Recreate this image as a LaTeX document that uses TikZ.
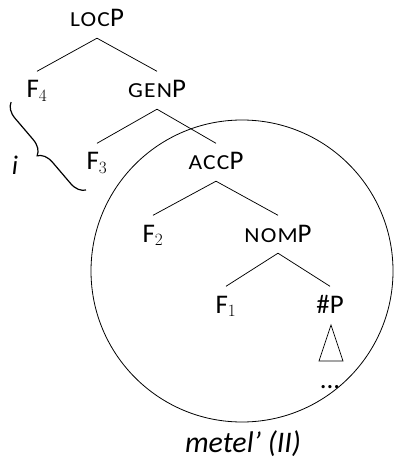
\documentclass[tikz,border=0pt]{standalone}
\usepackage{fontspec}
\usepackage{graphicx}
\setmainfont{Carlito}
\newfontfamily\scfont[LetterSpace=5]{Carlito}
\newcommand{\fakesc}[1]{\scalebox{1.1}[1]{\scfont\fontsize{21.5}{24}\selectfont #1}}
\usetikzlibrary{decorations.pathreplacing}
\begin{document}
\begin{tikzpicture}[x=1bp,y=-1bp,
  lbl/.style={anchor=base, font=\fontsize{27}{30}\selectfont, text height=15.5bp, text depth=0bp, inner xsep=0bp, inner ysep=11bp},
  branch/.style={line width=0.75bp},
  plain/.style={anchor=base, font=\fontsize{27}{30}\selectfont, inner sep=0bp}]
\useasboundingbox (0,0) rectangle (393,459);
% tree nodes
\node[lbl] (loc) at (97,27) {\fakesc{LOC}P};
\node[lbl] (f4) at (37,98) {F$_4$};
\node[lbl] (gen) at (157,98) {\fakesc{GEN}P};
\node[lbl] (f3) at (97,170) {F$_3$};
\node[lbl] (acc) at (216,170) {\fakesc{ACC}P};
\node[lbl] (f2) at (153,242) {F$_2$};
\node[lbl] (nom) at (278,242) {\fakesc{NOM}P};
\node[lbl] (f1) at (226,313) {F$_1$};
\node[lbl] (hp) at (330,313) {\#P};
\node[plain] (dots) at (330,388) {...};
% branches
\draw[branch] (loc.south) -- (f4.north);
\draw[branch] (loc.south) -- (gen.north);
\draw[branch] (gen.south) -- (f3.north);
\draw[branch] (gen.south) -- (acc.north);
\draw[branch] (acc.south) -- (f2.north);
\draw[branch] (acc.south) -- (nom.north);
\draw[branch] (nom.south) -- (f1.north);
\draw[branch] (nom.south) -- (hp.north);
% triangle
\draw[branch] (331,325) -- (319,361) -- (343,361) -- cycle;
% circle
\draw[line width=0.8bp] (242,271) circle[radius=151bp];
\node[plain, font=\fontsize{30}{33}\selectfont] (lab) at (243,452) {\itshape metel’ (II)};
% brace
\coordinate (bs) at (86,190);
\coordinate (be) at (11,102);
\draw[line width=1.2bp, decorate, decoration={brace, amplitude=15bp}] (bs) -- (be);
\node[plain] (i) at (15,175) {\itshape i};
\end{tikzpicture}
\end{document}
